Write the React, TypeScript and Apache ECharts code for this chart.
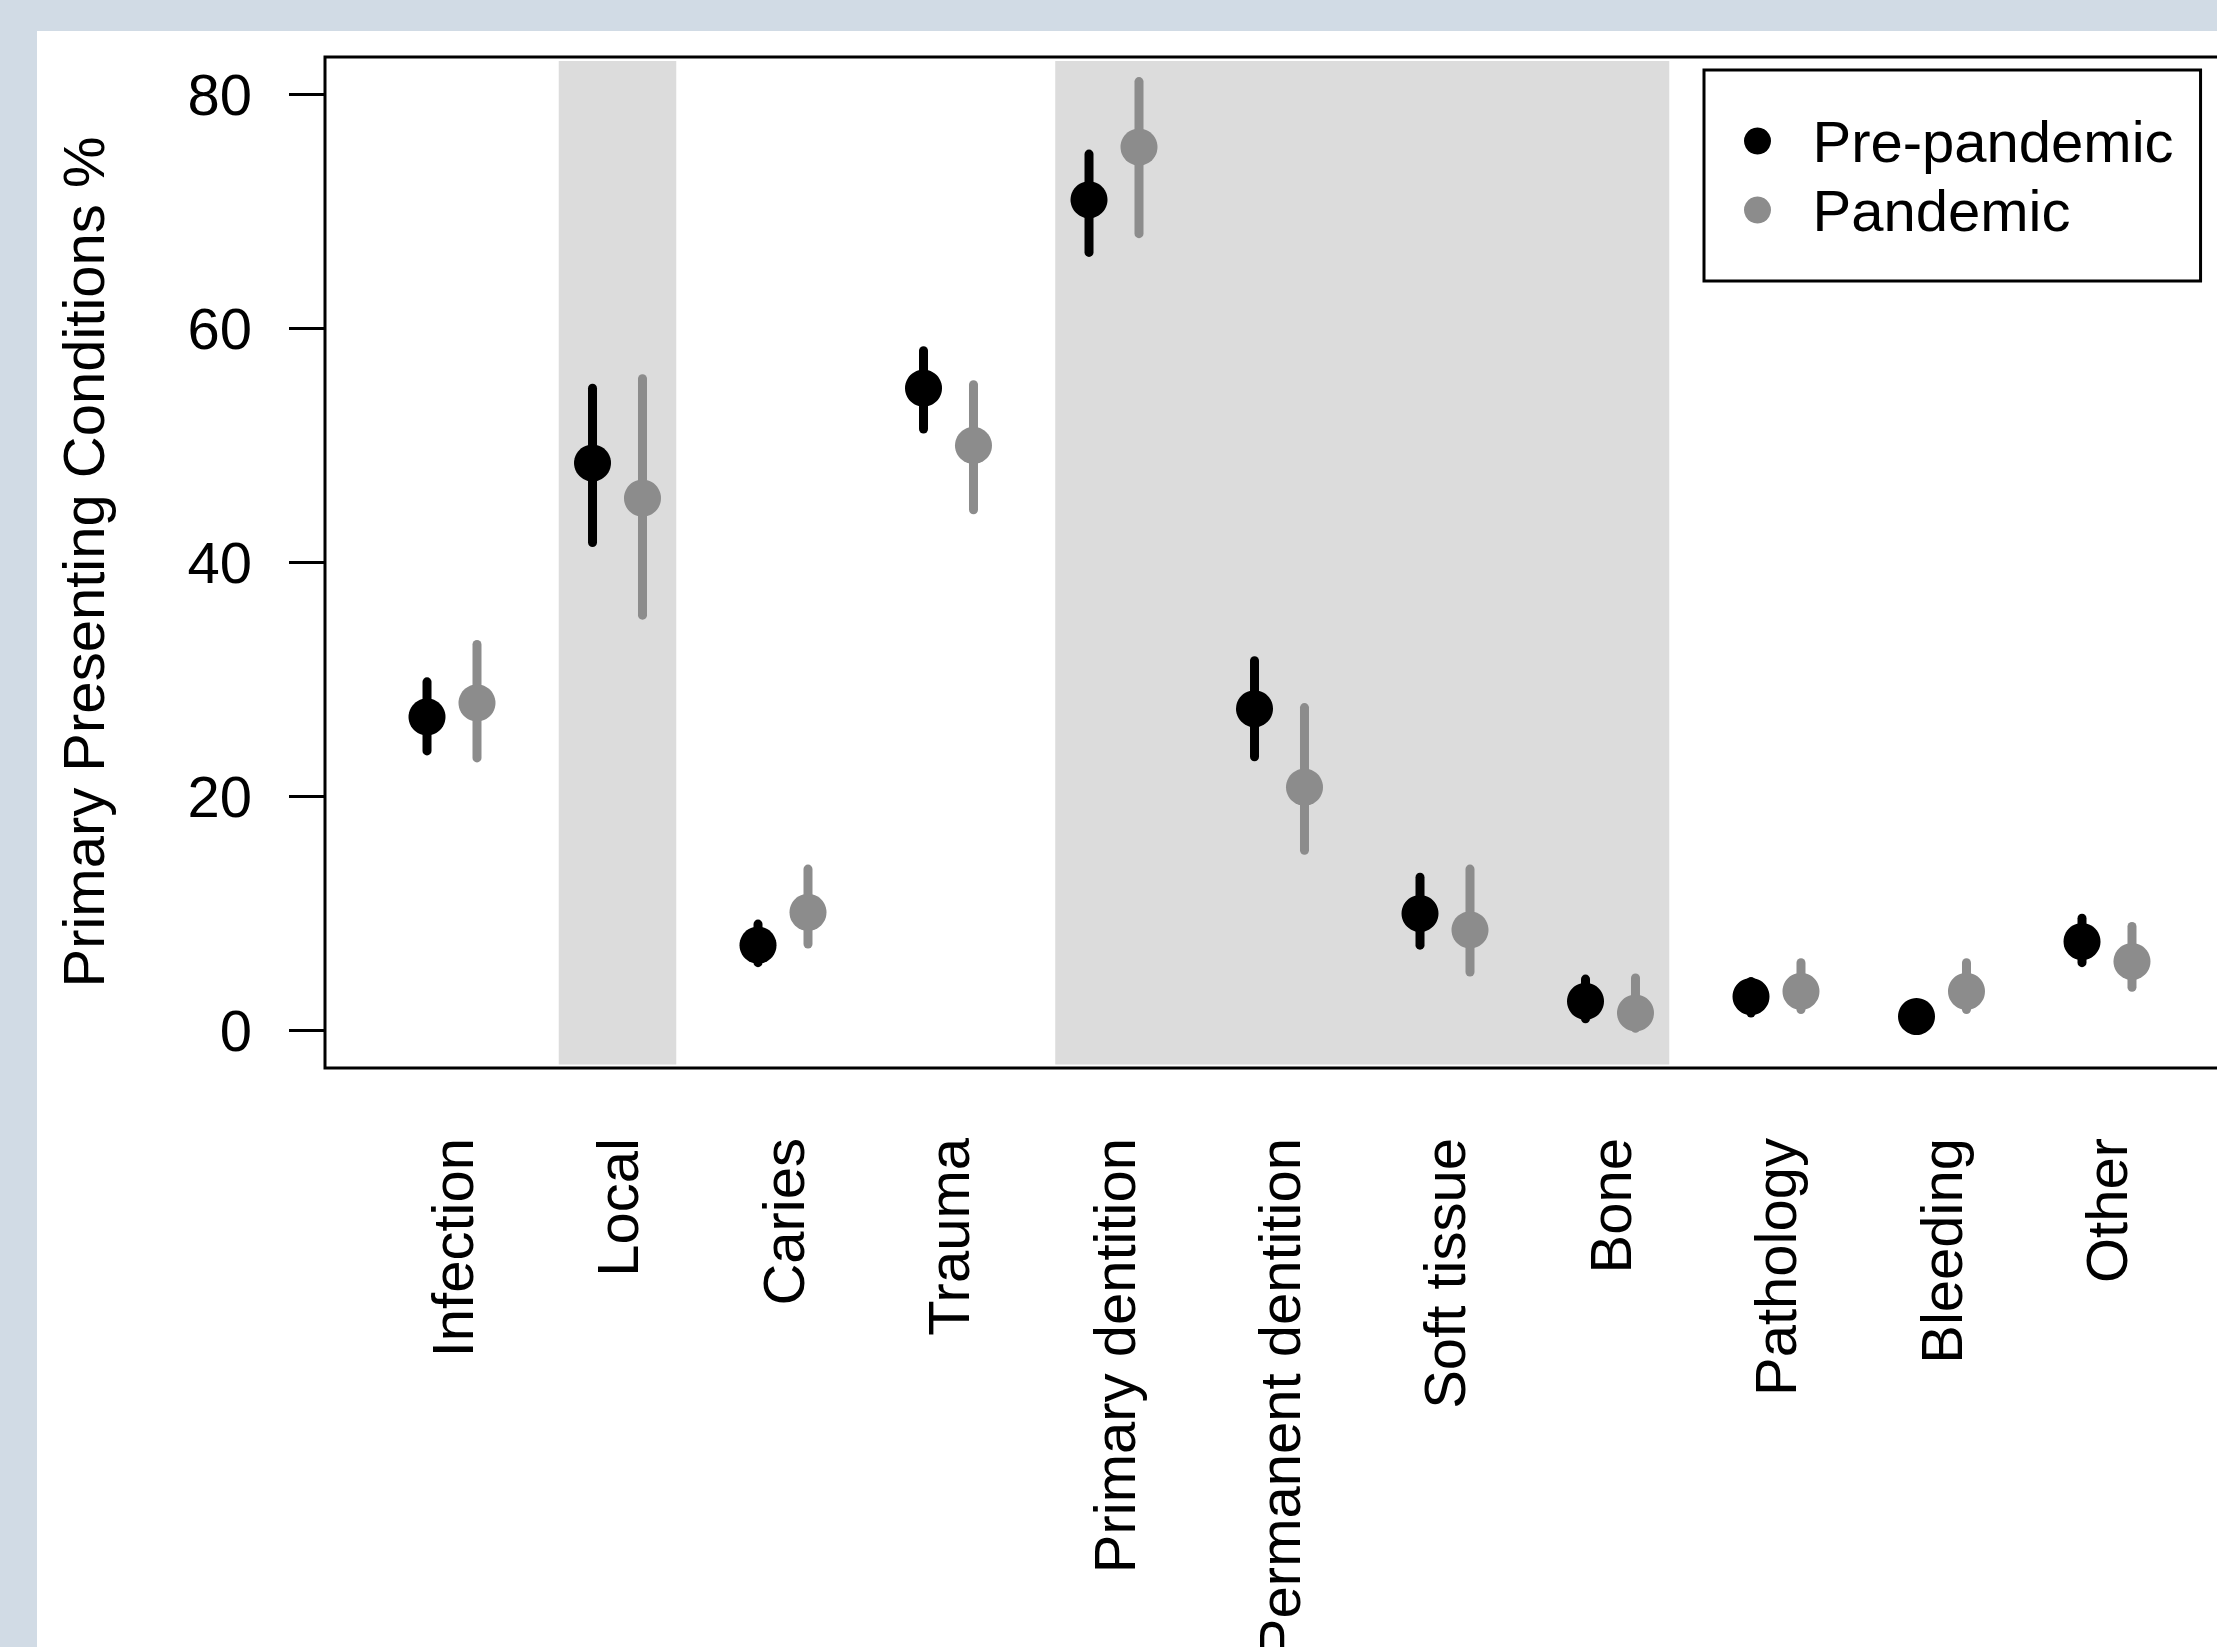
import React, { useEffect, useRef } from "react";
import * as echarts from "echarts";

const categories = [
  "Infection",
  "Local",
  "Caries",
  "Trauma",
  "Primary dentition",
  "Permanent dentition",
  "Soft tissue",
  "Bone",
  "Pathology",
  "Bleeding",
  "Other",
];
const prePandemicPct = [26.8, 48.5, 7.3, 54.9, 71.0, 27.5, 10.0, 2.5, 2.9, 1.2, 7.6];
const prePandemicLow = [23.9, 41.7, 5.8, 51.4, 66.5, 23.4, 7.3, 1.0, 1.5, 0.3, 5.8];
const prePandemicHigh = [29.8, 54.9, 9.1, 58.1, 74.9, 31.6, 13.1, 4.4, 4.2, 2.3, 9.6];
const pandemicPct = [28.0, 45.5, 10.1, 50.0, 75.5, 20.8, 8.6, 1.5, 3.35, 3.35, 5.9];
const pandemicLow = [23.3, 35.5, 7.4, 44.5, 68.1, 15.4, 5.0, 0.2, 1.8, 1.8, 3.7];
const pandemicHigh = [33.0, 55.7, 13.8, 55.2, 81.1, 27.6, 13.8, 4.5, 5.8, 5.8, 8.9];
const yTicks = [0, 20, 40, 60, 80];
const xTicks = [1, 2, 3, 4, 5, 6, 7, 8, 9, 10, 11];
// shaded category groups (1-based first and last category)
const shadedGroups = [
  [2, 2],
  [5, 8],
];
const seriesNames = ["Pre-pandemic", "Pandemic"];

const FONT = '"Liberation Sans", Arial, sans-serif';
const PRE_COLOR = "#000000";
const PAN_COLOR = "#8c8c8c";
const DODGE = 0.151;
const SHADE_HALF = 0.355;

function barSeries(name: string, color: string, offset: number, low: number[], high: number[], extra: any = {}) {
  return {
    name,
    type: "custom",
    encode: { x: 0, y: [1, 2] },
    data: low.map((l, i) => [i + 1 + offset, l, high[i]]),
    renderItem: (params: any, api: any) => {
      const top = api.coord([api.value(0), api.value(2)]);
      const bot = api.coord([api.value(0), api.value(1)]);
      return {
        type: "line",
        shape: { x1: top[0], y1: top[1], x2: bot[0], y2: bot[1] },
        style: { stroke: color, lineWidth: 9, lineCap: "round" },
      };
    },
    itemStyle: { color },
    silent: true,
    ...extra,
  };
}

function pointSeries(name: string, color: string, offset: number, pct: number[]) {
  return {
    name,
    type: "scatter",
    data: pct.map((v, i) => [i + 1 + offset, v]),
    symbol: "circle",
    symbolSize: 37,
    itemStyle: { color, opacity: 1 },
    silent: true,
  };
}

export default function App() {
  const ref = useRef<HTMLDivElement>(null);
  useEffect(() => {
    if (!ref.current) return;
    const chart = echarts.init(ref.current, undefined, { renderer: "svg" });
    const option: any = {
      animation: false,
      backgroundColor: "#d1dbe5",
      graphic: [
        {
          type: "rect",
          z: -10,
          shape: { x: 37, y: 31, width: 2400, height: 1700 },
          style: { fill: "#ffffff" },
          silent: true,
        },
        {
          type: "text",
          x: 83,
          y: 562,
          rotation: Math.PI / 2,
          style: {
            text: "Primary Presenting Conditions %",
            font: `58px ${FONT}`,
            fill: "#000",
            textAlign: "center",
            textVerticalAlign: "middle",
          },
        },
      ],
      grid: {
        left: 325,
        top: 57,
        right: 66,
        bottom: 579,
        outerBoundsMode: "none",
        containLabel: false,
        show: true,
        borderColor: "#000",
        borderWidth: 3,
        backgroundColor: "transparent",
      },
      legend: {
        data: seriesNames,
        orient: "vertical",
        left: 1704,
        top: 70,
        padding: [42, 27, 42, 40],
        borderColor: "#000",
        borderWidth: 3,
        itemWidth: 100,
        itemHeight: 27,
        itemGap: 11,
        icon: "circle",
        selectedMode: false,
        textStyle: { fontSize: 58, fontFamily: FONT, color: "#000" },
      },
      xAxis: {
        type: "value",
        min: 1 - 0.7674,
        max: 11 + 0.7674,
        axisLine: { show: false },
        axisTick: { show: false },
        splitLine: { show: false },
        axisLabel: {
          customValues: xTicks,
          rotate: 90,
          margin: 70,
          fontSize: 58,
          fontFamily: FONT,
          color: "#000",
          formatter: (v: number) => categories[Math.round(v) - 1] ?? "",
        },
      },
      yAxis: {
        type: "value",
        min: -3.2,
        max: 83.2,
        axisLine: { show: false },
        splitLine: { show: false },
        axisTick: {
          show: true,
          customValues: yTicks,
          length: 36,
          lineStyle: { color: "#000", width: 3 },
        },
        axisLabel: {
          customValues: yTicks,
          margin: 73,
          fontSize: 58,
          fontFamily: FONT,
          color: "#000",
        },
      },
      series: [
        barSeries(seriesNames[0], PRE_COLOR, -DODGE, prePandemicLow, prePandemicHigh, {
          markArea: {
            silent: true,
            itemStyle: { color: "#dcdcdc" },
            data: shadedGroups.map(([a, b]) => [
              { xAxis: a - SHADE_HALF, yAxis: -2.9 },
              { xAxis: b + SHADE_HALF, yAxis: 82.85 },
            ]),
          },
        }),
        pointSeries(seriesNames[0], PRE_COLOR, -DODGE, prePandemicPct),
        barSeries(seriesNames[1], PAN_COLOR, DODGE, pandemicLow, pandemicHigh),
        pointSeries(seriesNames[1], PAN_COLOR, DODGE, pandemicPct),
      ],
    };
    chart.setOption(option);
    return () => chart.dispose();
  }, []);
  return (
    <div
      style={{
        position: "fixed",
        left: 0,
        top: 0,
        width: 2217,
        height: 1647,
        overflow: "hidden",
      }}
    >
      <div ref={ref} style={{ width: 2300, height: 1647 }} />
    </div>
  );
}
